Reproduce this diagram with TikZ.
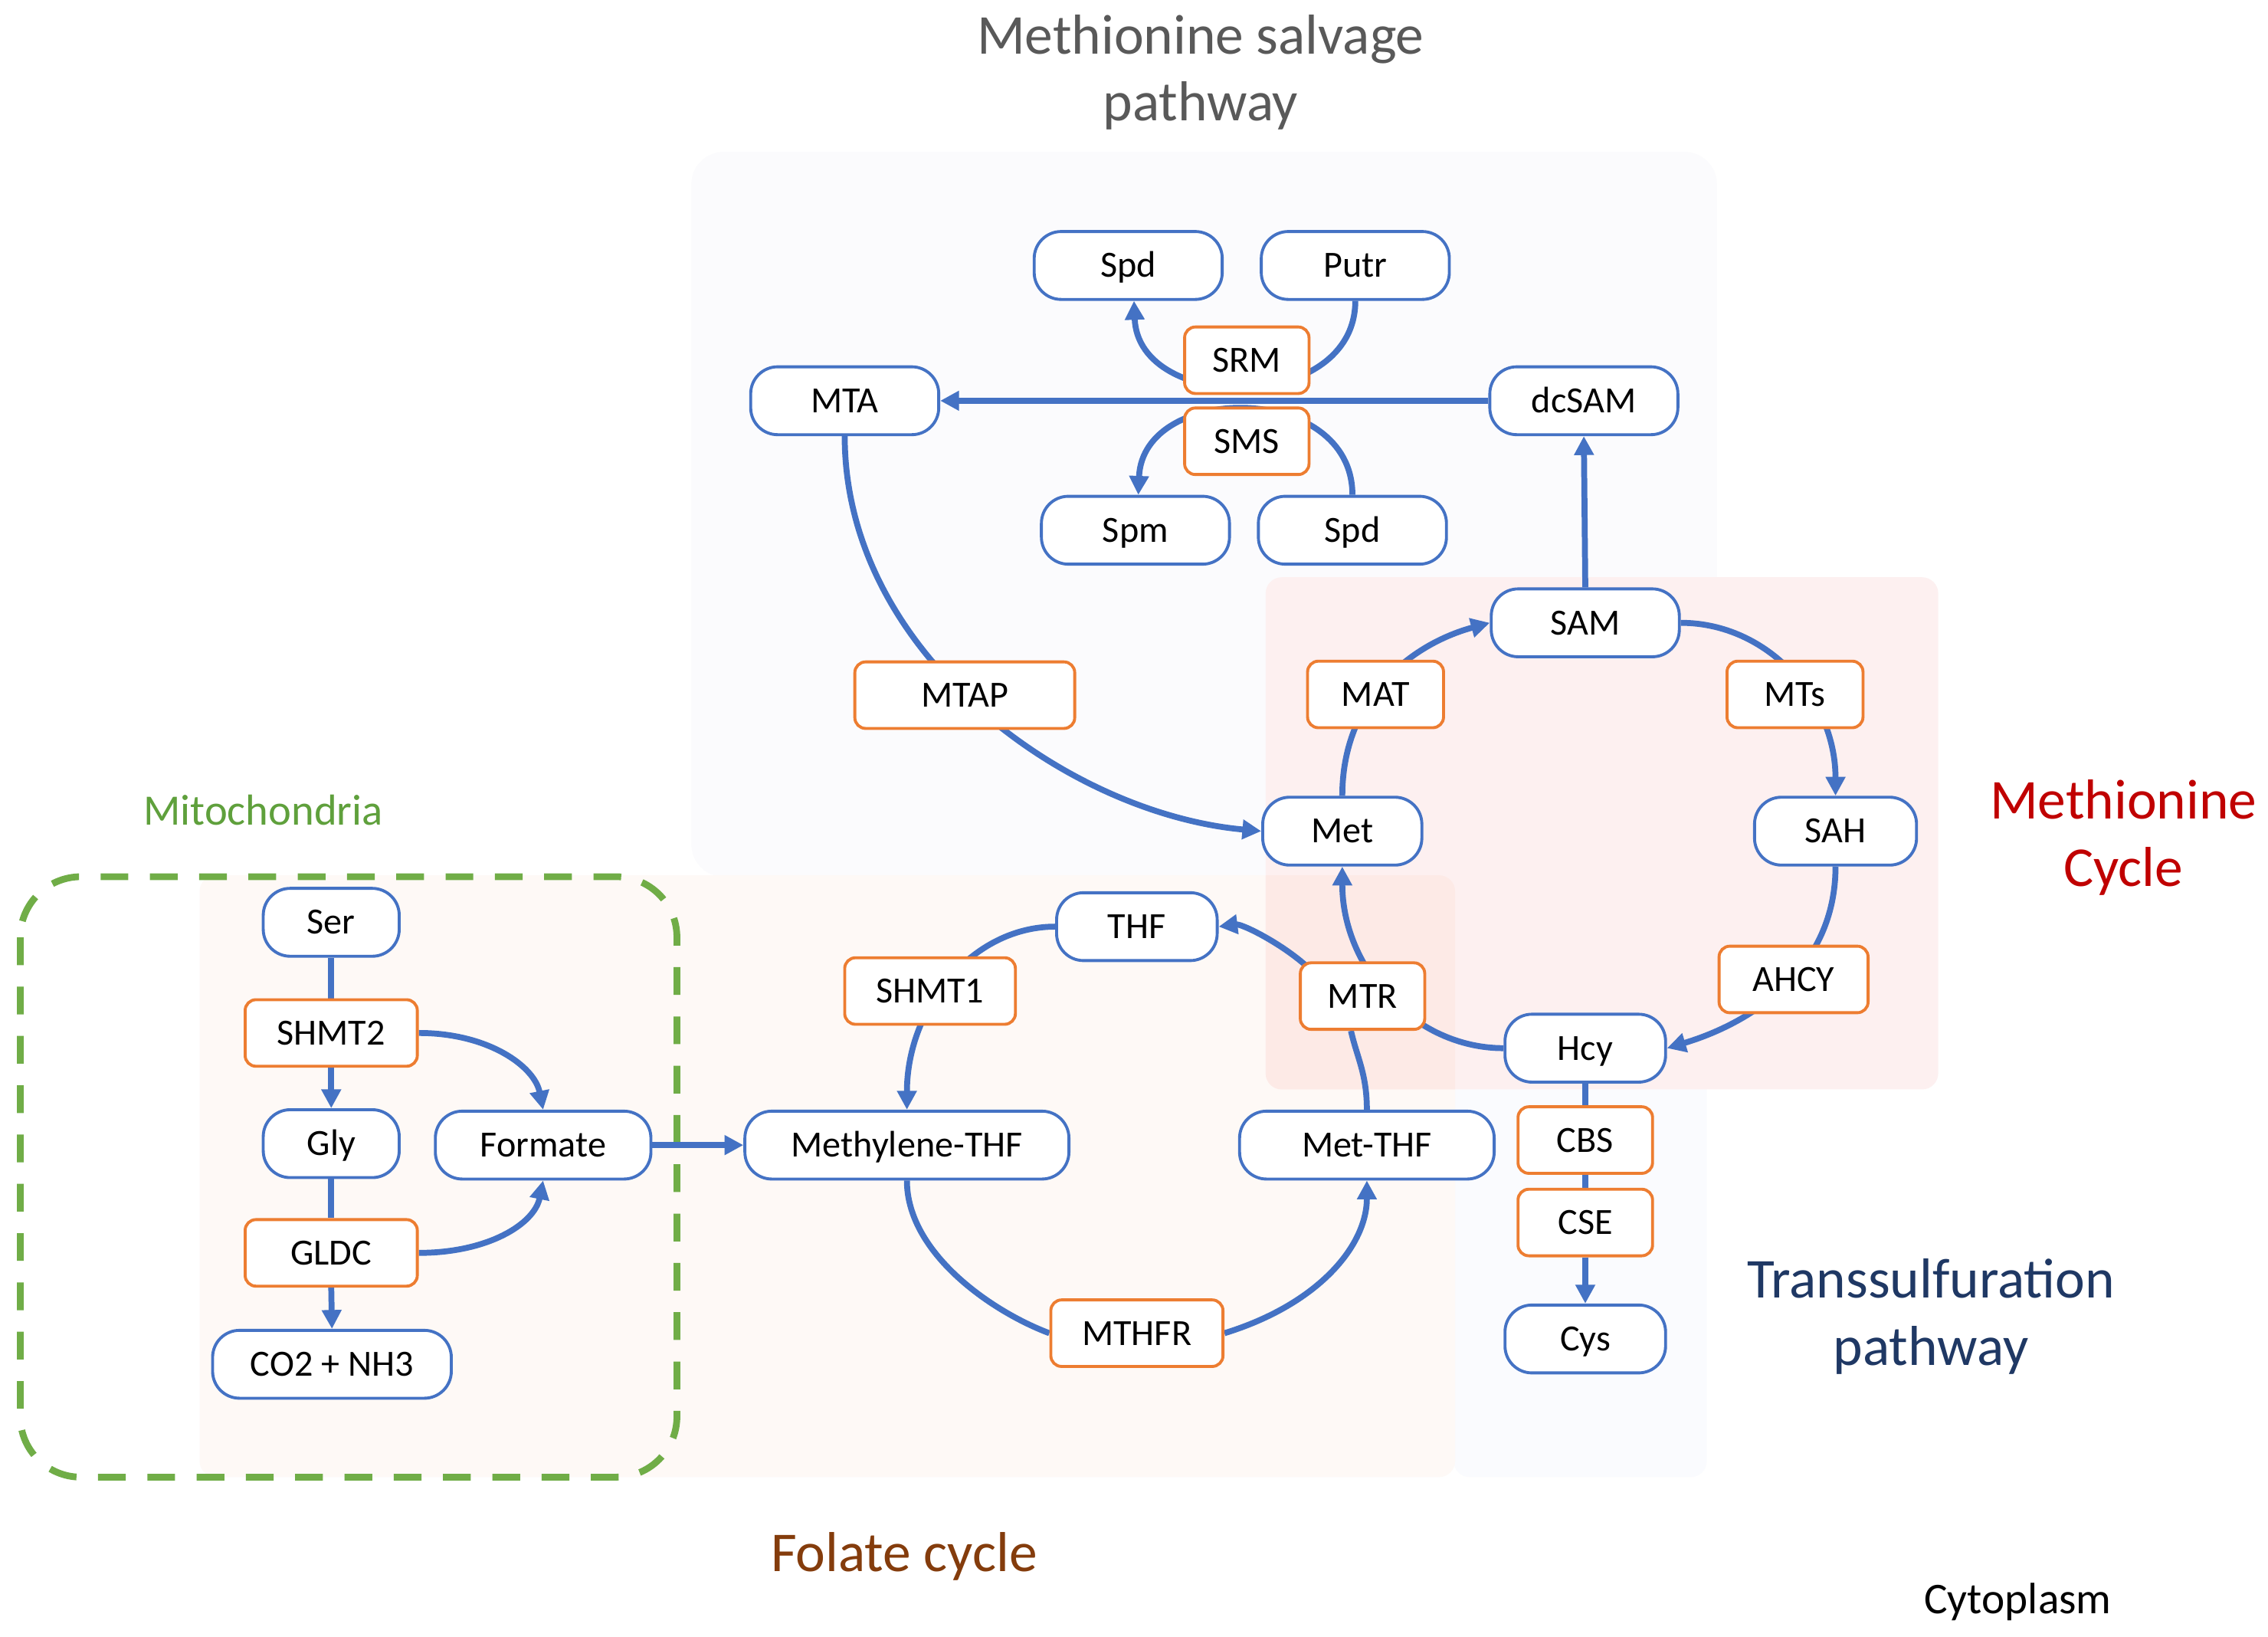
\documentclass[tikz,border=0pt]{standalone}
\usepackage{fontspec}
\setmainfont{Carlito}
\usetikzlibrary{arrows.meta,calc}
\definecolor{nblue}{HTML}{4472C4}
\definecolor{norange}{HTML}{ED7D31}
\definecolor{mgreen}{HTML}{70AD47}
\definecolor{mgreentext}{HTML}{5FA03C}
\definecolor{titlegray}{HTML}{595959}
\definecolor{cycred}{HTML}{C00000}
\definecolor{transblue}{HTML}{1F3864}
\definecolor{folbrown}{HTML}{843C0C}
\definecolor{bgsalv}{RGB}{251,251,253}
\definecolor{bgpink}{RGB}{253,240,240}
\definecolor{bgpeach}{RGB}{254,249,246}
\definecolor{bgover}{RGB}{253,234,230}
\definecolor{bgtrans}{RGB}{250,251,254}
\pgfdeclarelayer{bg}
\pgfdeclarelayer{edges}
\pgfsetlayers{bg,edges,main}
\begin{document}
\begin{tikzpicture}[x=0.018878cm,y=-0.018878cm,
  mw/.style={minimum width=#1*0.53712pt},
  nodefont/.style={font=\fontsize{13.7pt}{16pt}\selectfont, text height=10pt, text depth=1.2pt},
  metab/.style={draw=nblue, line width=1.1pt, fill=white, rounded corners=10pt, minimum height=25.2pt, inner sep=0pt, nodefont},
  enz/.style={draw=norange, line width=1.1pt, fill=white, rounded corners=4pt, minimum height=24.7pt, inner sep=0pt, nodefont},
  flow/.style={draw=nblue, line width=2.2pt},
  arr/.style={flow, -{Triangle[length=7pt,width=7pt]}},
  bigtitle/.style={align=center, inner sep=0pt, font=\fontsize{20.9pt}{25pt}\selectfont},
  lbl/.style={align=center, inner sep=0pt},
]
\useasboundingbox (0,0) rectangle (1568,1131);
\begin{pgfonlayer}{bg}
  \fill[white] (0,0) rectangle (1568,1131);
  \fill[bgsalv, rounded corners=12pt] (478,105) rectangle (1187,606);
  \fill[bgtrans, rounded corners=6pt] (1005,600) rectangle (1180,1021);
  \fill[bgpeach, rounded corners=6pt] (138,605) rectangle (1006,1021);
  \fill[bgpink, rounded corners=6pt] (875,399) rectangle (1340,753);
  \begin{scope}
    \clip[rounded corners=6pt] (875,399) rectangle (1340,753);
    \fill[bgover, rounded corners=6pt] (138,605) rectangle (1006,1021);
  \end{scope}
  \draw[mgreen, line width=2.5pt, rounded corners=22.5pt, dash pattern=on 10.3pt off 8pt] (14,606) rectangle (468,1021);
\end{pgfonlayer}

% metabolites
\node[metab, mw=130] (SpdA) at (780,183.5) {Spd};
\node[metab, mw=130] (Putr) at (937,183.5) {Putr};
\node[metab, mw=130] (MTA) at (584,277) {MTA};
\node[metab, mw=130] (dcSAM) at (1095,277) {dcSAM};
\node[metab, mw=130] (Spm) at (785,366.5) {Spm};
\node[metab, mw=130] (SpdB) at (935,366.5) {Spd};
\node[metab, mw=130] (SAM) at (1096,430.5) {SAM};
\node[metab, mw=110] (Met) at (928,574.5) {Met};
\node[metab, mw=112] (SAH) at (1269,574.5) {SAH};
\node[metab, mw=111] (THF) at (786,640.5) {THF};
\node[metab, mw=111] (Hcy) at (1096,724.5) {Hcy};
\node[metab, mw=111] (Cys) at (1096,925.5) {Cys};
\node[metab, mw=224] (MethTHF) at (627,791.5) {Methylene-THF};
\node[metab, mw=176] (MetTHF) at (945,791.5) {Met-THF};
\node[metab, mw=94] (Ser) at (229,637.5) {Ser};
\node[metab, mw=94] (Gly) at (229,790.5) {Gly};
\node[metab, mw=149] (Formate) at (375.5,791.5) {Formate};
\node[metab, mw=165] (CO2) at (229.5,943) {CO2 + NH3};

% enzymes
\node[enz, mw=86] (SRM) at (862,249) {SRM};
\node[enz, mw=86] (SMS) at (862,305) {SMS};
\node[enz, mw=94] (MAT) at (951,480) {MAT};
\node[enz, mw=94] (MTs) at (1241,480) {MTs};
\node[enz, mw=152] (MTAP) at (667,480.5) {MTAP};
\node[enz, mw=118] (SHMT1) at (643,685) {SHMT1};
\node[enz, mw=86] (MTR) at (942,688.5) {MTR};
\node[enz, mw=103] (AHCY) at (1240,677) {AHCY};
\node[enz, mw=93] (CBS) at (1096,788) {CBS};
\node[enz, mw=93] (CSE) at (1096,845) {CSE};
\node[enz, mw=119] (MTHFR) at (786,921.5) {MTHFR};
\node[enz, mw=119] (SHMT2) at (229,714) {SHMT2};
\node[enz, mw=119] (GLDC) at (229,866) {GLDC};

% labels
\node[bigtitle, text=titlegray] (tSalv) at (830,50) {Methionine salvage\\pathway};
\node[bigtitle, text=cycred] (tMet) at (1468,579) {Methionine\\Cycle};
\node[bigtitle, text=transblue] (tTrans) at (1335,910) {Transsulfuration\\pathway};
\node[bigtitle, text=folbrown] (tFol) at (625,1076) {Folate cycle};
\node[lbl, text=mgreentext, font=\fontsize{16.1pt}{19pt}\selectfont] (tMito) at (182,560) {Mitochondria};
\node[lbl, font=\fontsize{16.3pt}{19pt}\selectfont] (tCyto) at (1395,1107) {Cytoplasm};

\begin{pgfonlayer}{edges}
  \draw[arr] (dcSAM.west) -- (MTA.east);
  \draw[arr] (Putr.south) .. controls +(0,78) and +(3,78) .. ($(SpdA.south)+(4,0)$);
  \draw[arr] (SpdB.north) .. controls +(0,-78) and +(3,-78) .. ($(Spm.north)+(2,0)$);
  \draw[arr] (SAM.north) -- (dcSAM.south);
  \draw[arr] (MTA.south) .. controls +(0,151) and +(-133,-12) .. (Met.west);
  \draw[arr] (Met.north) .. controls +(0,-67) and +(-55,15) .. (SAM.west);
  \draw[arr] (SAM.east) .. controls +(60,0) and +(0,-67) .. (SAH.north);
  \draw[arr] (SAH.south) .. controls +(0,70) and +(60,-18) .. (Hcy.east);
  \draw[arr] (Hcy.west) .. controls +(-62,0) and +(0,70) .. (Met.south);
  \draw[arr] ($(MTR.north west)+(5,3)$) .. controls +(-18,-16) and +(16,-2) .. (THF.east);
  \draw[flow] (MetTHF.north) .. controls +(0,-25) and +(4,18) .. ($(MTR.south)+(-8,0)$);
  \draw[arr] (MTHFR.east) .. controls +(65,-20) and +(0,45) .. (MetTHF.south);
  \draw[flow] (MethTHF.south) .. controls +(0,50) and +(-40,-15) .. (MTHFR.west);
  \draw[arr] (THF.west) .. controls +(-57,0) and +(0,-71) .. (MethTHF.north);
  \draw[arr] (Formate.east) -- (MethTHF.west);
  \draw[flow] (Ser.south) -- (SHMT2.north);
  \draw[arr] (SHMT2.south) -- (Gly.north);
  \draw[arr] (SHMT2.east) .. controls +(48,0) and +(-6,-30) .. (Formate.north);
  \draw[flow] (Gly.south) -- (GLDC.north);
  \draw[arr] (GLDC.south) -- (CO2.north);
  \draw[arr] (GLDC.east) .. controls +(48,0) and +(-6,30) .. (Formate.south);
  \draw[flow] (Hcy.south) -- (CBS.north);
  \draw[flow] (CBS.south) -- (CSE.north);
  \draw[arr] (CSE.south) -- (Cys.north);
\end{pgfonlayer}
\end{tikzpicture}
\end{document}
